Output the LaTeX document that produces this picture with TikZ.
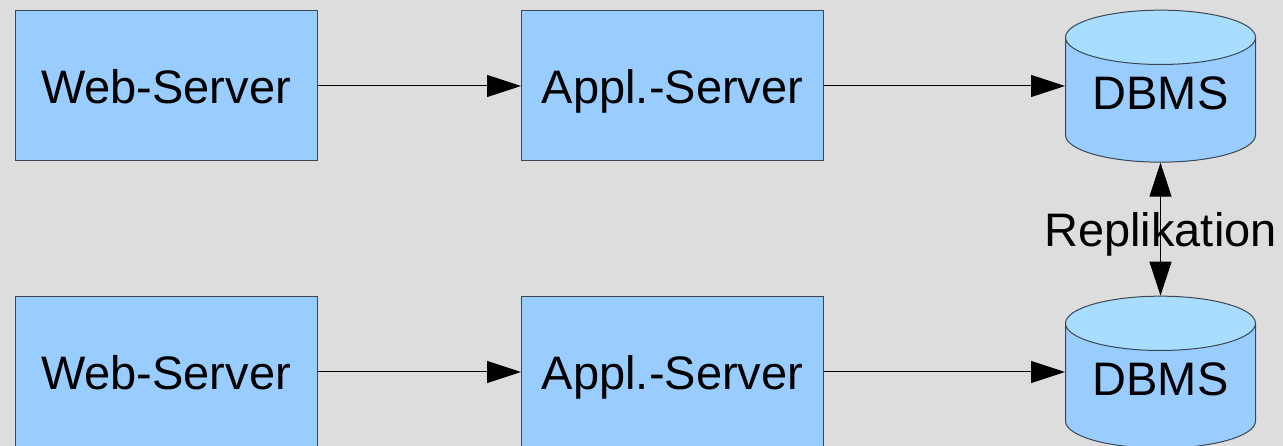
\documentclass[tikz,border=0pt]{standalone}
\usepackage{fontspec}
\setmainfont{Liberation Sans}
\usetikzlibrary{positioning,shapes.geometric,arrows.meta}

\definecolor{bggray}{HTML}{DDDDDD}
\definecolor{boxblue}{HTML}{99CCFF}
\definecolor{topblue}{HTML}{A8DDFF}
\definecolor{edgegray}{HTML}{3C4650}

\tikzset{
	bigtri/.tip={Triangle[length=34pt,width=22pt]},
	server/.style={draw=edgegray,fill=boxblue,line width=1pt,
		minimum width=302pt,minimum height=150pt,inner sep=0pt,text depth=0pt},
	dbms/.style={cylinder,shape border rotate=90,aspect=0.4,draw=edgegray,
		line width=1pt,cylinder uses custom fill,cylinder body fill=boxblue,
		cylinder end fill=topblue,minimum width=190pt,minimum height=152pt,
		inner sep=0pt,text depth=14pt},
	flow/.style={-bigtri,line width=1pt},
	sync/.style={bigtri-bigtri,line width=1pt},
}

\begin{document}
\begin{tikzpicture}[node distance=286pt,on grid,font=\fontsize{47}{56}\selectfont]
	\fill[bggray] (0,0) rectangle (1283pt,-446pt);
	\useasboundingbox (0,0) rectangle (1283pt,-446pt);

	\node[server] (web1) at (166pt,-86pt) {Web-Server};
	\node[server] (app1) [right=506.5pt of web1] {Appl.-Server};
	\node[dbms,yshift=-14pt] (db1) [right=488pt of app1] {DBMS};
	\node[server] (web2) [below=of web1] {Web-Server};
	\node[server] (app2) [below=of app1] {Appl.-Server};
	\node[dbms] (db2) [below=of db1] {DBMS};

	\draw[flow] (web1) -- (app1);
	\draw[flow] (app1) -- (app1 -| db1.west);
	\draw[flow] (web2) -- (app2);
	\draw[flow] (app2) -- (app2 -| db2.west);

	% replication between the two databases
	\draw[sync] (db1.south) -- node[text depth=0pt] {Replikation} (db2.north);
\end{tikzpicture}
\end{document}
